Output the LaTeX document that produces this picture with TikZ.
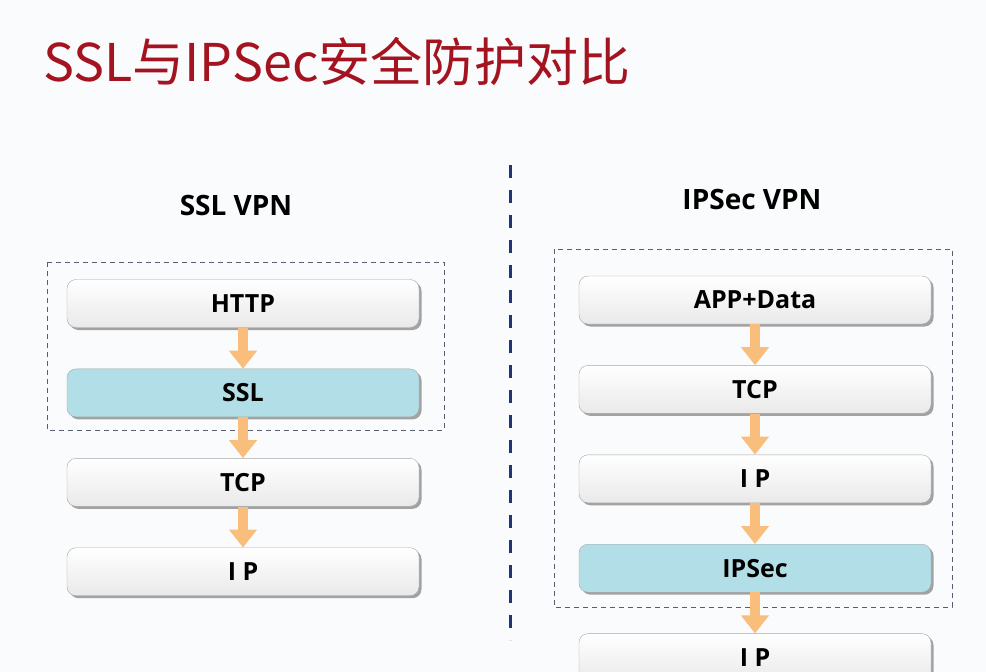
\documentclass[tikz,border=0pt]{standalone}
\usepackage{fontspec}
\setmainfont{Open Sans}
\newfontfamily\cjk{Noto Sans CJK SC}
\usetikzlibrary{arrows.meta,positioning,shadows}

\definecolor{bgwhite}{RGB}{250,251,252}
\definecolor{titlered}{RGB}{163,20,32}
\definecolor{secblue}{RGB}{178,222,231}
\definecolor{flow}{RGB}{249,190,124}
\definecolor{navy}{RGB}{32,52,118}
\definecolor{frame}{RGB}{88,92,108}

\tikzset{
  layerbox/.style={draw=gray!70,rounded corners=9pt,top color=white,bottom color=gray!17,
    minimum width=352pt,minimum height=48pt,inner sep=0pt,
    font=\fontsize{25}{30}\selectfont\bfseries,
    drop shadow={shadow xshift=2.5pt,shadow yshift=-2.5pt,fill=gray!80,opacity=.9}},
  secbox/.style={layerbox,top color=secblue,bottom color=secblue},
  flowarrow/.style={draw=flow,line width=10pt,-{Triangle[width=27pt,length=18pt]}},
  groupframe/.style={draw=frame,line width=0.8pt,dash pattern=on 5pt off 4pt},
  vpnlabel/.style={font=\fontsize{28}{33}\selectfont\bfseries}
}

\begin{document}
\begin{tikzpicture}[x=1pt,y=-1pt,node distance=41pt]
  \clip (0,0) rectangle (986,672);
  \fill[bgwhite] (0,0) rectangle (986,672);
  % title
  \node[anchor=base west,inner sep=0pt,text=titlered,font=\cjk\fontsize{52}{62}\selectfont] (title) at (43,81) {SSL与IPSec安全防护对比};
  % divider
  \coordinate (divtop) at (510,165);
  \coordinate (divbot) at (510,640);
  \draw[navy,line width=3pt,dash pattern=on 13pt off 12pt] (divtop) -- (divbot);
  % dashed groups
  \draw[groupframe] (47,262) rectangle (444,430);
  \draw[groupframe] (554,249) rectangle (952,607);
  % SSL VPN stack
  \node[vpnlabel] (sslvpn) at (236,205) {SSL VPN};
  \node[layerbox] (http) at (243,303.5) {HTTP};
  \node[secbox,below=of http] (ssl) {SSL};
  \node[layerbox,below=of ssl] (ltcp) {TCP};
  \node[layerbox,below=of ltcp] (lip) {I P};
  % IPSec VPN stack
  \node[vpnlabel] (ipsecvpn) at (752,199) {IPSec VPN};
  \node[layerbox] (app) at (755,300) {APP+Data};
  \node[layerbox,below=of app] (rtcp) {TCP};
  \node[layerbox,below=of rtcp] (rip) {I P};
  \node[secbox,below=of rip] (ipsec) {IPSec};
  \node[layerbox,below=of ipsec] (outip) {I P};
  % flow
  \draw[flowarrow] (http) -- (ssl);
  \draw[flowarrow] (ssl) -- (ltcp);
  \draw[flowarrow] (ltcp) -- (lip);
  \draw[flowarrow] (app) -- (rtcp);
  \draw[flowarrow] (rtcp) -- (rip);
  \draw[flowarrow] (rip) -- (ipsec);
  \draw[flowarrow] (ipsec) -- (outip);
\end{tikzpicture}
\end{document}
